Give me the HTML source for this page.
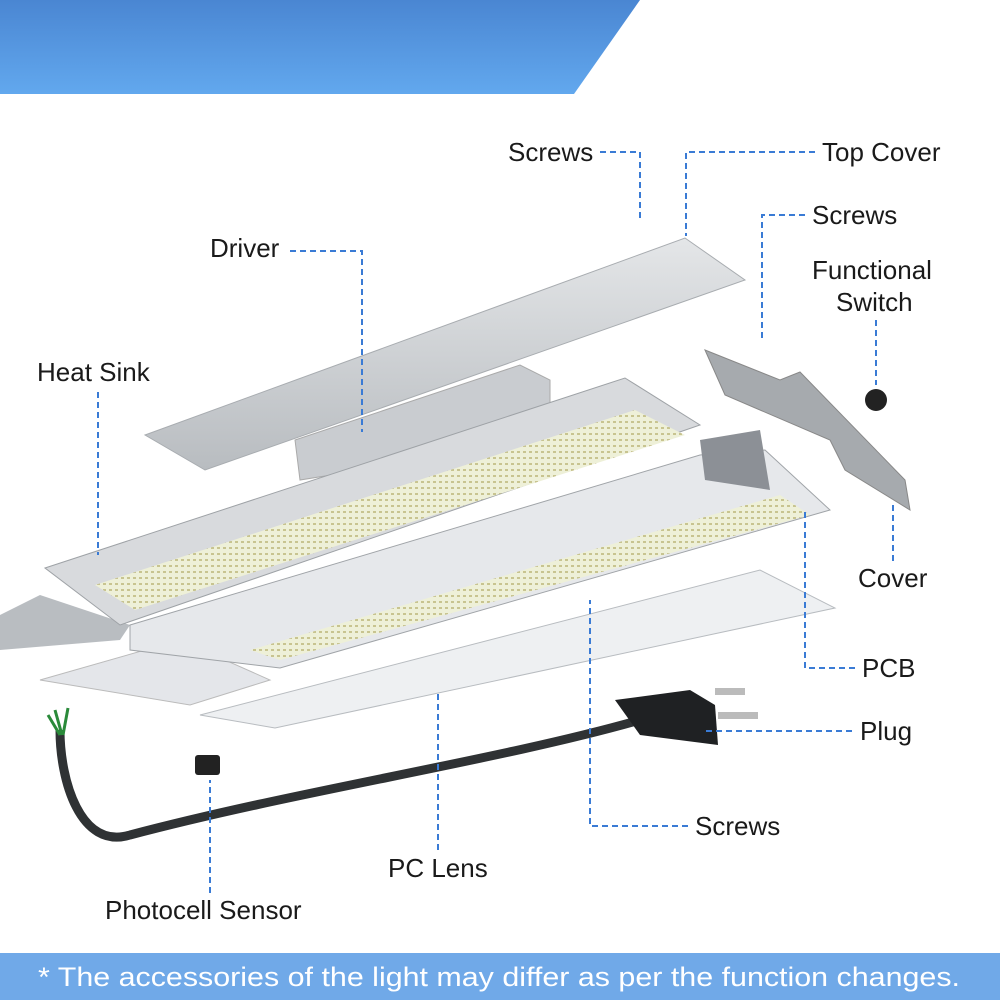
<!DOCTYPE html>
<html><head><meta charset="utf-8"><style>
body{margin:0;width:1000px;height:1000px;overflow:hidden;background:#fff;font-family:"Liberation Sans",sans-serif}
svg{display:block}
</style></head><body>
<svg width="1000" height="1000" viewBox="0 0 1000 1000" xmlns="http://www.w3.org/2000/svg">
<defs>
<linearGradient id="bn" x1="0" y1="0" x2="0" y2="1"><stop offset="0" stop-color="#4a86d2"/><stop offset="1" stop-color="#62a8ee"/></linearGradient>
<linearGradient id="al" x1="0" y1="0" x2="0" y2="1"><stop offset="0" stop-color="#e4e6e8"/><stop offset="1" stop-color="#b8bcc0"/></linearGradient>
<pattern id="led" width="6" height="6" patternUnits="userSpaceOnUse"><rect width="6" height="6" fill="#eef0d8"/><rect x="1" y="1" width="3" height="2" fill="#c8c490"/></pattern>
</defs>
<polygon points="0,0 640,0 574,94 0,94" fill="url(#bn)"/>
<rect x="0" y="953" width="1000" height="47" fill="#70a9e8"/>
<text x="38" y="986" font-size="27" fill="#fff" textLength="922" lengthAdjust="spacingAndGlyphs">* The accessories of the light may differ as per the function changes.</text>

<polygon points="0,615 40,595 130,625 120,640 0,650" fill="#b9bdc1"/>
<polygon points="145,435 685,238 745,280 205,470" fill="url(#al)" stroke="#a8acb0"/>
<polygon points="295,440 520,365 550,380 550,440 300,480" fill="#c9ccd0" stroke="#aaa"/>
<polygon points="45,568 625,378 700,425 120,625" fill="#d8dadd" stroke="#9ea2a6"/>
<polygon points="95,585 635,410 685,435 135,610" fill="url(#led)"/>
<polygon points="40,680 180,640 270,680 190,705" fill="#e4e6ea" stroke="#bbb"/>
<polygon points="130,625 700,455 765,450 830,510 280,668 130,650" fill="#e6e8eb" stroke="#a0a4a8"/>
<polygon points="250,650 780,495 810,515 280,660" fill="url(#led)"/>
<polygon points="700,440 760,430 770,490 705,480" fill="#8c9096"/>
<polygon points="200,715 760,570 835,608 275,728" fill="#eef0f2" stroke="#b8bcc0"/>
<polygon points="705,350 780,380 800,372 905,480 910,510 845,470 830,440 725,395" fill="#a6aaae" stroke="#888"/>
<circle cx="876" cy="400" r="11" fill="#222"/>
<rect x="195" y="755" width="25" height="20" rx="3" fill="#222"/>
<path d="M60,730 C60,780 80,850 130,835 C300,790 500,760 640,720" stroke="#2f3234" stroke-width="9" fill="none"/>
<polygon points="615,700 690,690 715,705 718,745 640,735" fill="#1f2123"/>
<rect x="715" y="688" width="30" height="7" fill="#bbb"/><rect x="718" y="712" width="40" height="7" fill="#bbb"/>
<path d="M55,710 L62,735 M48,715 L60,735 M68,708 L63,735" stroke="#2a8a3a" stroke-width="3"/>

<g stroke="#3a7bd5" stroke-width="2" stroke-dasharray="6,4" fill="none">
<path d="M600,152 H640 V222"/>
<path d="M815,152 H686 V236"/>
<path d="M805,215 H762 V340"/>
<path d="M876,320 V385"/>
<path d="M290,251 H362 V432"/>
<path d="M98,392 V555"/>
<path d="M893,505 V562"/>
<path d="M855,668 H805 V510"/>
<path d="M852,731 H705"/>
<path d="M688,826 H590 V600"/>
<path d="M438,850 V690"/>
<path d="M210,893 V780"/>
</g>
<g font-size="26" fill="#1a1a1a">
<text x="508" y="161">Screws</text>
<text x="822" y="161">Top Cover</text>
<text x="812" y="224">Screws</text>
<text x="812" y="279">Functional</text>
<text x="836" y="311">Switch</text>
<text x="210" y="257">Driver</text>
<text x="37" y="381">Heat Sink</text>
<text x="858" y="587">Cover</text>
<text x="862" y="677">PCB</text>
<text x="860" y="740">Plug</text>
<text x="695" y="835">Screws</text>
<text x="388" y="877">PC Lens</text>
<text x="105" y="919">Photocell Sensor</text>
</g>
</svg>
</body></html>
